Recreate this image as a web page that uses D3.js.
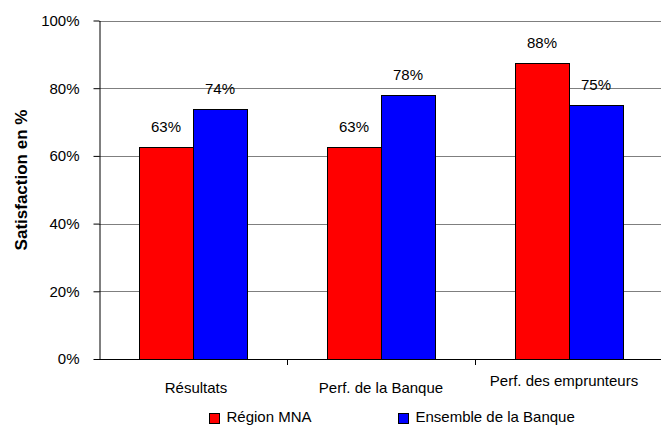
<!DOCTYPE html>
<html>
<head>
<meta charset="utf-8">
<script src="https://cdn.jsdelivr.net/npm/d3@7"></script>
<style>
  body { margin: 0; background: #fff; }
  text { font-family: "Liberation Sans", Arial, sans-serif; }
</style>
</head>
<body>
<div id="canvas"></div>
<script>
"use strict"

/* Data (satisfaction, %) */
let categories = ["Résultats", "Perf. de la Banque", "Perf. des emprunteurs"];
let seriesNames = ["Région MNA", "Ensemble de la Banque"];
let regionMNA = [62.5, 62.5, 87.5];
let ensembleBanque = [74, 78, 75];
let yTicks = [0, 20, 40, 60, 80, 100];
let colors = ["#ff0000", "#0000ff"];

/* Drawing configuration */
let svgWidth = 661;
let svgHeight = 425;
let plotLeft = 99, plotRight = 663, plotTop = 20.5, plotBottom = 359;

let svg = d3.select("#canvas")
    .append("svg")
    .attr("width", svgWidth)
    .attr("height", svgHeight);

let xScale = d3.scaleBand()
    .domain(categories)
    .range([plotLeft, plotRight]);

let inner = d3.scaleBand()
    .domain(seriesNames)
    .range([0, xScale.bandwidth()])
    .paddingInner(0)
    .paddingOuter(0.74);

let yScale = d3.scaleLinear()
    .domain([0, 100])
    .range([plotBottom, plotTop]);

/* gridlines */
svg.append("g")
    .selectAll("line")
    .data(yTicks.filter(d => d > 0))
    .join("line")
    .attr("x1", plotLeft)
    .attr("x2", svgWidth)
    .attr("y1", d => Math.round(yScale(d)) + 0.5)
    .attr("y2", d => Math.round(yScale(d)) + 0.5)
    .attr("stroke", "#7f7f7f")
    .attr("stroke-width", 1);

/* bars */
let rows = categories.map((c, i) => ({cat: c, values: [regionMNA[i], ensembleBanque[i]]}));

let groups = svg.append("g")
    .selectAll("g")
    .data(rows)
    .join("g")
    .attr("transform", d => "translate(" + xScale(d.cat) + ",0)");

groups.selectAll("rect")
    .data(d => d.values.map((v, j) => ({name: seriesNames[j], value: v, j: j})))
    .join("rect")
    .attr("x", d => Math.round(inner(d.name)) + 0.5)
    .attr("y", d => Math.round(yScale(d.value)) + 0.5)
    .attr("width", Math.round(inner.bandwidth()))
    .attr("height", d => plotBottom - Math.round(yScale(d.value)))
    .attr("fill", d => colors[d.j])
    .attr("stroke", "#000")
    .attr("stroke-width", 1);

groups.selectAll("text")
    .data(d => d.values.map((v, j) => ({name: seriesNames[j], value: v})))
    .join("text")
    .attr("x", d => inner(d.name) + inner.bandwidth() / 2)
    .attr("y", d => yScale(d.value) - 15)
    .attr("text-anchor", "middle")
    .attr("font-size", "15px")
    .attr("fill", "#000")
    .text(d => Math.round(d.value) + "%");

/* y axis */
let yAxis = svg.append("g")
    .attr("transform", "translate(" + (plotLeft + 0.5) + ",0)")
    .call(d3.axisLeft(yScale).tickValues(yTicks).tickFormat(d => d + "%").tickSize(6).tickSizeOuter(0));
yAxis.selectAll("text")
    .attr("font-size", "15px")
    .attr("fill", "#000")
    .attr("font-family", "Liberation Sans, Arial, sans-serif")
    .attr("x", -20);
yAxis.select(".domain").attr("stroke", "#000");
yAxis.selectAll(".tick line").attr("stroke", "#000");

/* x axis baseline and boundary ticks */
svg.append("line")
    .attr("x1", plotLeft).attr("x2", svgWidth)
    .attr("y1", plotBottom + 0.5).attr("y2", plotBottom + 0.5)
    .attr("stroke", "#000");

svg.append("g")
    .selectAll("line")
    .data(categories.slice(1))
    .join("line")
    .attr("x1", d => Math.round(xScale(d)) + 0.5)
    .attr("x2", d => Math.round(xScale(d)) + 0.5)
    .attr("y1", plotBottom)
    .attr("y2", plotBottom + 6)
    .attr("stroke", "#000");

/* category labels (the last one sits a bit higher, as in the original) */
let labelY = [393, 393, 386];
let labelShift = [3, 0, -5];
svg.append("g")
    .selectAll("text")
    .data(categories)
    .join("text")
    .attr("x", (d, i) => xScale(d) + xScale.bandwidth() / 2 + labelShift[i])
    .attr("y", (d, i) => labelY[i])
    .attr("text-anchor", "middle")
    .attr("font-size", "15px")
    .attr("fill", "#000")
    .text(d => d);

/* y axis title */
svg.append("text")
    .attr("transform", "translate(27,180) rotate(-90)")
    .attr("text-anchor", "middle")
    .attr("font-size", "17px")
    .attr("font-weight", "bold")
    .attr("fill", "#000")
    .text("Satisfaction en %");

/* legend */
let legendX = [209.5, 398.5];
let legend = svg.append("g")
    .selectAll("g")
    .data(seriesNames)
    .join("g")
    .attr("transform", (d, i) => "translate(" + legendX[i] + ",413.5)");

legend.append("rect")
    .attr("width", 10)
    .attr("height", 10)
    .attr("fill", (d, i) => colors[i])
    .attr("stroke", "#000");

legend.append("text")
    .attr("x", 17)
    .attr("y", 8)
    .attr("font-size", "15px")
    .attr("fill", "#000")
    .text(d => d);
</script>
</body>
</html>
